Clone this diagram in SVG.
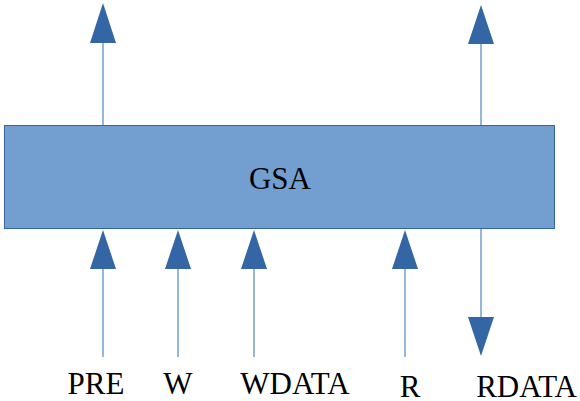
<svg xmlns="http://www.w3.org/2000/svg" width="580" height="401" viewBox="0 0 580 401">
<style>
.ln{stroke:#729fcf;stroke-width:1.5;fill:none}
.hd{fill:#3465a4;stroke:none}
.t{font-family:"Liberation Serif","DejaVu Serif",serif;font-size:31px;fill:#000}
</style>
<rect width="580" height="401" fill="#fff"/>
<g id="connectors">
<line class="ln" x1="103" y1="42" x2="103" y2="131"/>
<polygon class="hd" points="103,3 116,43 90,43"/>
<line class="ln" x1="481" y1="42" x2="481" y2="132"/>
<polygon class="hd" points="481,5 494,44 468,44"/>
<line class="ln" x1="103" y1="268" x2="103" y2="357"/>
<polygon class="hd" points="103,230 116,269 90,269"/>
<line class="ln" x1="178" y1="268" x2="178" y2="357"/>
<polygon class="hd" points="178,230 191,269 165,269"/>
<line class="ln" x1="254" y1="268" x2="254" y2="357"/>
<polygon class="hd" points="254,230 267,269 241,269"/>
<line class="ln" x1="405" y1="268" x2="405" y2="357"/>
<polygon class="hd" points="405,230 418,269 392,269"/>
<line class="ln" x1="481" y1="229" x2="481" y2="319"/>
<polygon class="hd" points="481,356 494,317 468,317"/>
</g>
<g id="GSA">
<rect x="4.5" y="125.5" width="550" height="103" fill="#729fcf" stroke="#3465a4" stroke-width="1"/>
<text class="t" x="280" y="189" text-anchor="middle">GSA</text>
</g>
<g id="labels">
<text class="t" x="96" y="394" text-anchor="middle">PRE</text>
<text class="t" x="178" y="394" text-anchor="middle">W</text>
<text class="t" x="295" y="394" text-anchor="middle">WDATA</text>
<text class="t" x="410" y="397" text-anchor="middle">R</text>
<text class="t" x="577" y="397" text-anchor="end">RDATA</text>
</g>
</svg>
